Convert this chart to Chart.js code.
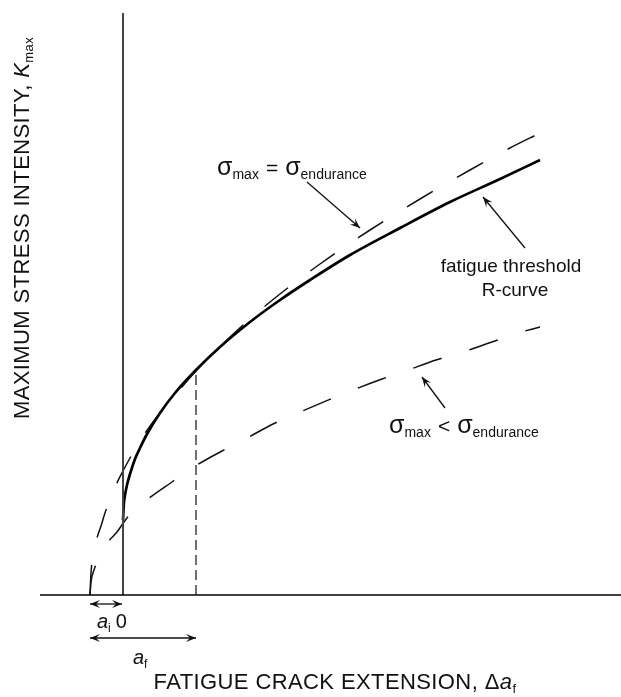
<!DOCTYPE html>
<html>
<head>
<meta charset="utf-8">
<script src="https://cdn.jsdelivr.net/npm/chart.js@4.4.0/dist/chart.umd.min.js"></script>
<style>
html, body { margin: 0; padding: 0; background: #fff; }
#wrap { width: 621px; height: 697px; position: relative; }
</style>
</head>
<body>
<div id="wrap"><canvas id="chart"></canvas></div>
<script>
// ---------- data (schematic units, x = crack extension, y = Kmax) ----------
const xRange = [-8.3, 49.8];
const yRange = [0, 58.2];
const aInit = -3.3;      // a_i (left of origin)
const aFinal = 7.3;      // a_f
const aFinalK = 22.5;    // where a_f meets the R-curve

// fatigue threshold R-curve (solid)
const rCurveX = [0, 0.1, 0.2, 0.4, 0.7, 1.2, 1.7, 2.4, 3.7, 5.2, 7.3, 9.7, 12.7, 15.7, 18.7, 22.7, 27.7, 32.7, 37.7, 41.7];
const rCurveY = [7.5, 9.3, 10.0, 11.0, 12.1, 13.6, 14.7, 16.1, 18.2, 20.2, 22.5, 24.8, 27.3, 29.5, 31.5, 34.0, 36.7, 39.3, 41.6, 43.5];

// sigma_max = sigma_endurance (long dash)
const endurX = [-3.3, -3.2, -3.0, -2.6, -2.2, -1.7, -1.1, -0.6, 0, 0.7, 1.7, 3.0, 4.7, 7.3, 10.7, 14.7, 19.7, 24.7, 29.7, 34.7, 38.7, 41.7];
const endurY = [0, 2.2, 3.9, 5.7, 6.9, 8.5, 9.7, 11.2, 12.4, 13.7, 15.4, 17.3, 19.4, 22.4, 25.8, 29.3, 33.1, 36.5, 39.6, 42.5, 44.7, 46.2];

// sigma_max < sigma_endurance (long dash)
const belowX = [-3.3, -3.2, -3.0, -2.6, -2.3, -1.5, -0.6, 0.4, 2.5, 4.9, 7.4, 9.9, 12.4, 15.0, 17.7, 23.0, 25.9, 28.5, 31.3, 34.0, 36.9, 39.5, 41.7];
const belowY = [0, 1.3, 2.2, 3.3, 4.0, 5.3, 6.3, 7.7, 9.6, 11.3, 13.0, 14.4, 15.7, 17.1, 18.3, 20.5, 21.6, 22.5, 23.5, 24.3, 25.3, 26.2, 26.8];

function pts(xs, ys) { return xs.map((x, i) => ({ x: x, y: ys[i] })); }

// ---------- text helpers ----------
const FONT = '"Liberation Sans", Arial, Helvetica, sans-serif';
function f(size, italic) { return (italic ? 'italic ' : '') + size + 'px ' + FONT; }

// runs: [{t, font, dy, gap}] drawn on one baseline
function drawRuns(ctx, runs, x, y, align) {
  let total = 0;
  runs.forEach(r => { ctx.font = r.font; r.w = ctx.measureText(r.t).width; total += r.w + (r.gap || 0); });
  let cx = align === 'center' ? x - total / 2 : (align === 'right' ? x - total : x);
  ctx.textAlign = 'left';
  ctx.textBaseline = 'alphabetic';
  runs.forEach(r => {
    ctx.font = r.font;
    ctx.fillText(r.t, cx, y + (r.dy || 0));
    cx += r.w + (r.gap || 0);
  });
}

function arrowHead(ctx, x1, y1, x2, y2) {
  const a = Math.atan2(y2 - y1, x2 - x1);
  const len = 10, half = 4;
  ctx.beginPath();
  ctx.moveTo(x2, y2);
  ctx.lineTo(x2 - len * Math.cos(a) + half * Math.sin(a), y2 - len * Math.sin(a) - half * Math.cos(a));
  ctx.lineTo(x2 - 0.6 * len * Math.cos(a), y2 - 0.6 * len * Math.sin(a));
  ctx.lineTo(x2 - len * Math.cos(a) - half * Math.sin(a), y2 - len * Math.sin(a) + half * Math.cos(a));
  ctx.closePath();
  ctx.fill();
}

function arrow(ctx, x1, y1, x2, y2, both) {
  ctx.beginPath();
  ctx.moveTo(x1, y1);
  ctx.lineTo(x2, y2);
  ctx.stroke();
  arrowHead(ctx, x1, y1, x2, y2);
  if (both) arrowHead(ctx, x2, y2, x1, y1);
}

function sigmaLabel(ctx, rel, x, y) {
  drawRuns(ctx, [
    { t: 'σ', font: f(25) },
    { t: 'max', font: f(14), dy: 4, gap: 7 },
    { t: rel, font: f(21), gap: 7 },
    { t: 'σ', font: f(25) },
    { t: 'endurance', font: f(14), dy: 4 }
  ], x, y, 'left');
}

// ---------- annotations (arrows + labels) ----------
const annotations = {
  id: 'annotations',
  afterDatasetsDraw(chart) {
    const ctx = chart.ctx;
    const X = v => chart.scales.x.getPixelForValue(v);
    const Y = v => chart.scales.y.getPixelForValue(v);
    ctx.save();
    ctx.fillStyle = '#111';
    ctx.strokeStyle = '#111';
    ctx.lineWidth = 1.3;

    // pointer arrows
    arrow(ctx, X(18.4), Y(41.3), X(23.7), Y(36.7));
    arrow(ctx, X(40.2), Y(34.7), X(36.0), Y(39.8));
    arrow(ctx, X(32.2), Y(18.7), X(29.9), Y(21.8));

    // a_i and a_f spans
    arrow(ctx, X(aInit), Y(-0.9), X(-0.1), Y(-0.9), true);
    arrow(ctx, X(aInit), Y(-4.3), X(aFinal), Y(-4.3), true);

    // labels
    sigmaLabel(ctx, '=', X(9.4), Y(42.0));
    sigmaLabel(ctx, '<', X(26.6), Y(16.2));

    drawRuns(ctx, [{ t: 'fatigue threshold', font: f(19) }], X(38.8), Y(32.3), 'center');
    drawRuns(ctx, [{ t: 'R-curve', font: f(19) }], X(39.2), Y(29.9), 'center');

    drawRuns(ctx, [
      { t: 'a', font: f(20, true) },
      { t: 'i', font: f(12), dy: 4, gap: 5 },
      { t: '0', font: f(20) }
    ], X(-2.6), Y(-3.3), 'left');

    drawRuns(ctx, [
      { t: 'a', font: f(20, true) },
      { t: 'f', font: f(12), dy: 4 }
    ], X(1.0), Y(-6.9), 'left');

    // axis titles
    ctx.letterSpacing = '0.4px';
    drawRuns(ctx, [
      { t: 'FATIGUE CRACK EXTENSION, Δ', font: f(22) },
      { t: 'a', font: f(22, true) },
      { t: 'f', font: f(13), dy: 4 }
    ], 335, 689, 'center');

    ctx.translate(29, 228);
    ctx.rotate(-Math.PI / 2);
    drawRuns(ctx, [
      { t: 'MAXIMUM STRESS INTENSITY, ', font: f(22) },
      { t: 'K', font: f(22, true) },
      { t: 'max', font: f(13), dy: 4 }
    ], 0, 0, 'center');
    ctx.restore();
  }
};

// ---------- chart ----------
const lineBase = { pointRadius: 0, fill: false, clip: false, tension: 0 };
const curve = { cubicInterpolationMode: 'monotone' };

new Chart(document.getElementById('chart').getContext('2d'), {
  type: 'line',
  data: {
    datasets: [
      Object.assign({ label: 'x axis', data: pts(xRange, [0, 0]), borderColor: '#000', borderWidth: 1.5 }, lineBase),
      Object.assign({ label: 'y axis', data: pts([0, 0], yRange), borderColor: '#444', borderWidth: 2 }, lineBase),
      Object.assign({ label: 'a_f', data: pts([aFinal, aFinal], [0, aFinalK]), borderColor: '#333', borderWidth: 1.4, borderDash: [10, 5] }, lineBase),
      Object.assign({ label: 'below', data: pts(belowX, belowY), borderColor: '#111', borderWidth: 1.5, borderDash: [30, 29] }, lineBase, curve),
      Object.assign({ label: 'endurance', data: pts(endurX, endurY), borderColor: '#111', borderWidth: 1.5, borderDash: [30, 28] }, lineBase, curve),
      Object.assign({ label: 'R-curve', data: pts(rCurveX, rCurveY), borderColor: '#000', borderWidth: 2.7 }, lineBase, curve)
    ]
  },
  options: {
    responsive: true,
    maintainAspectRatio: false,
    animation: false,
    events: [],
    layout: { padding: { left: 40, right: 0, top: 13, bottom: 102 } },
    plugins: { legend: { display: false }, tooltip: { enabled: false } },
    scales: {
      x: { type: 'linear', min: xRange[0], max: xRange[1], display: false },
      y: { type: 'linear', min: yRange[0], max: yRange[1], display: false }
    }
  },
  plugins: [annotations]
});
</script>
</body>
</html>
